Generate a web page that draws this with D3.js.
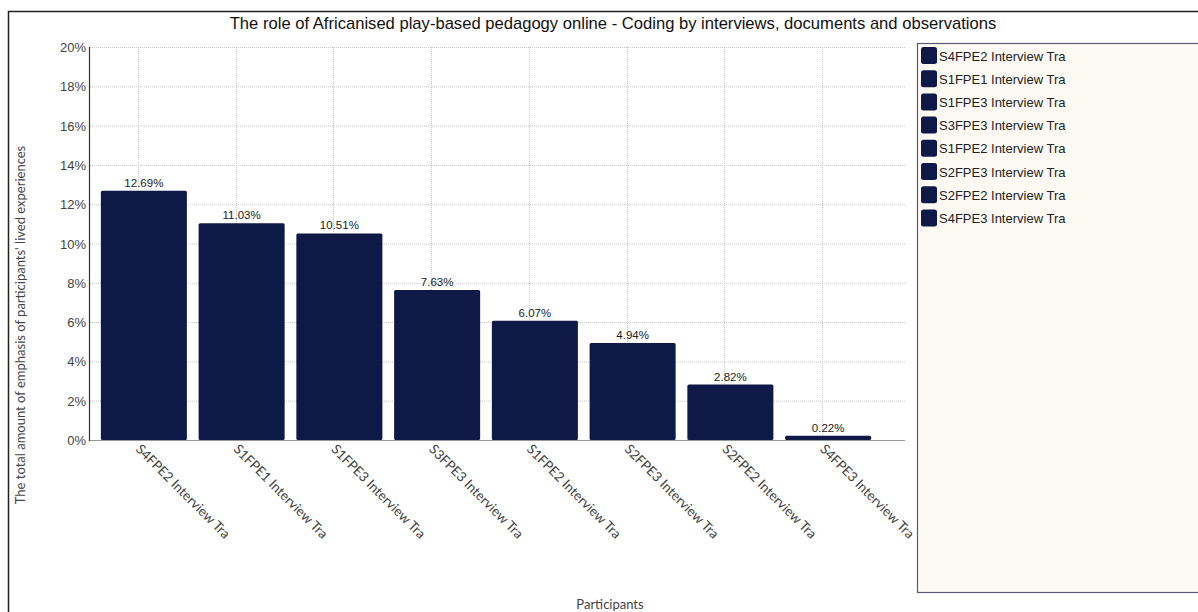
<!DOCTYPE html>
<html>
<head>
<meta charset="utf-8">
<script src="https://cdn.jsdelivr.net/npm/d3@7"></script>
<style>
  body { margin: 0; background: #fff; }
  svg { display: block; }
  .grid line { stroke: #c8c8c8; stroke-dasharray: 1,1; }
  .ytick text { font-family: "Liberation Sans", Arial, sans-serif; font-size: 13px; fill: #444; }
  .xlab { font-family: Lato, "Open Sans", sans-serif; font-size: 13.5px; fill: #444; }
  .val { font-family: "Liberation Sans", Arial, sans-serif; font-size: 11.5px; fill: #222; }
  .legend text { font-family: "Liberation Sans", Arial, sans-serif; font-size: 13px; fill: #222; }
</style>
</head>
<body>
<div id="chart"></div>
<script>
  const participants = [
    'S4FPE2 Interview Tra', 'S1FPE1 Interview Tra', 'S1FPE3 Interview Tra', 'S3FPE3 Interview Tra',
    'S1FPE2 Interview Tra', 'S2FPE3 Interview Tra', 'S2FPE2 Interview Tra', 'S4FPE3 Interview Tra'
  ];
  const emphasis = [12.69, 11.03, 10.51, 7.63, 6.07, 4.94, 2.82, 0.22];
  const yTicks = [0, 2, 4, 6, 8, 10, 12, 14, 16, 18, 20];

  const W = 1198, H = 612;
  const plot = { left: 90, right: 905, top: 47, bottom: 440 };
  const barColor = '#0e1947';

  const svg = d3.select('#chart').append('svg')
    .attr('width', W).attr('height', H);

  // outer frame (right and bottom fall outside the picture)
  svg.append('rect')
    .attr('x', 8.5).attr('y', 11.5).attr('width', 1400).attr('height', 800)
    .attr('fill', 'none').attr('stroke', '#222').attr('stroke-width', 1.5);

  const x = d3.scaleBand()
    .domain(participants)
    .range([95, 877])
    .paddingInner(0.12)
    .paddingOuter(0.06);

  const y = d3.scaleLinear()
    .domain([0, 20])
    .range([plot.bottom, plot.top]);

  // grid
  const grid = svg.append('g').attr('class', 'grid');
  grid.selectAll('line.h')
    .data(yTicks.slice(1))
    .join('line')
    .attr('x1', plot.left).attr('x2', plot.right)
    .attr('y1', d => y(d) + 0.5).attr('y2', d => y(d) + 0.5);
  grid.selectAll('line.v')
    .data(participants)
    .join('line')
    .attr('x1', d => Math.round(x(d) + x.bandwidth() / 2 - 6) + 0.5)
    .attr('x2', d => Math.round(x(d) + x.bandwidth() / 2 - 6) + 0.5)
    .attr('y1', plot.top).attr('y2', plot.bottom);

  // bars
  svg.selectAll('rect.bar')
    .data(participants)
    .join('rect')
    .attr('class', 'bar')
    .attr('x', d => x(d))
    .attr('width', x.bandwidth())
    .attr('y', (d, i) => y(emphasis[i]))
    .attr('height', (d, i) => y(0) - y(emphasis[i]))
    .attr('rx', 1.5)
    .attr('fill', barColor);

  svg.selectAll('text.val')
    .data(participants)
    .join('text')
    .attr('class', 'val')
    .attr('x', d => x(d) + x.bandwidth() / 2)
    .attr('y', (d, i) => y(emphasis[i]) - 4)
    .attr('text-anchor', 'middle')
    .text((d, i) => emphasis[i].toFixed(2) + '%');

  // axes lines
  svg.append('line')
    .attr('x1', plot.left - 0.5).attr('x2', plot.left - 0.5)
    .attr('y1', plot.top).attr('y2', plot.bottom + 1)
    .attr('stroke', '#333').attr('stroke-width', 1.2);
  svg.append('line')
    .attr('x1', plot.left).attr('x2', plot.right)
    .attr('y1', plot.bottom + 0.5).attr('y2', plot.bottom + 0.5)
    .attr('stroke', '#999');

  // y ticks
  svg.append('g').attr('class', 'ytick')
    .selectAll('text')
    .data(yTicks)
    .join('text')
    .attr('x', plot.left - 4)
    .attr('y', d => y(d) + 5)
    .attr('text-anchor', 'end')
    .text(d => d + '%');

  // x labels
  svg.selectAll('text.xlab')
    .data(participants)
    .join('text')
    .attr('class', 'xlab')
    .attr('text-anchor', 'start')
    .attr('transform', d => `translate(${x(d) + x.bandwidth() / 2 - 9},${plot.bottom + 10}) rotate(45)`)
    .text(d => d);

  // titles
  svg.append('text')
    .attr('x', 613).attr('y', 29)
    .attr('text-anchor', 'middle')
    .style('font-family', '"Liberation Sans", Arial, sans-serif')
    .style('font-size', '16.6px')
    .attr('fill', '#111')
    .text('The role of Africanised play-based pedagogy online - Coding by interviews, documents and observations');

  svg.append('text')
    .attr('transform', 'translate(25,325) rotate(-90)')
    .attr('text-anchor', 'middle')
    .style('font-family', 'Lato, sans-serif')
    .style('font-size', '13px')
    .attr('fill', '#444')
    .text("The total amount of emphasis of participants' lived experiences");

  svg.append('text')
    .attr('x', 610).attr('y', 609)
    .attr('text-anchor', 'middle')
    .style('font-family', 'Lato, sans-serif')
    .style('font-size', '13px')
    .attr('fill', '#444')
    .text('Participants');

  // legend
  const legend = svg.append('g').attr('class', 'legend');
  legend.append('rect')
    .attr('x', 917.5).attr('y', 43.5).attr('width', 400).attr('height', 549)
    .attr('fill', '#fdfaf3').attr('stroke', '#5a5a78').attr('stroke-width', 1.2);
  const items = legend.selectAll('g.item')
    .data(participants)
    .join('g')
    .attr('class', 'item')
    .attr('transform', (d, i) => `translate(921,${47 + i * 23.2})`);
  items.append('rect')
    .attr('width', 16).attr('height', 17).attr('rx', 2.5)
    .attr('fill', barColor);
  items.append('text')
    .attr('x', 18).attr('y', 13.5)
    .text(d => d);
</script>
</body>
</html>
